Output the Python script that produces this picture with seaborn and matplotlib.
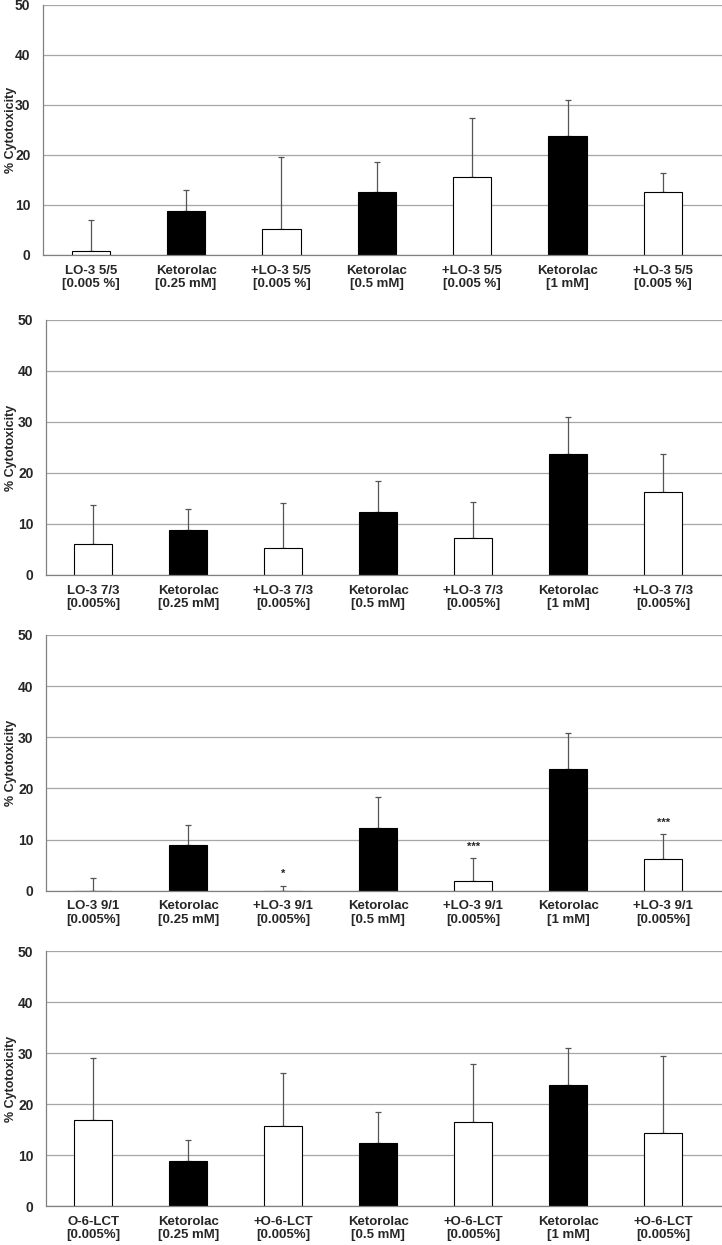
import numpy as np
import pandas as pd
import matplotlib
matplotlib.use("Agg")
import matplotlib.pyplot as plt
import seaborn as sns

sns.set_style("white")
plt.rcParams['font.family'] = ['Liberation Sans', 'DejaVu Sans']

# Data (mean % cytotoxicity and upper SD)
labels_p1 = ["LO-3 5/5\n[0.005 %]", "Ketorolac\n[0.25 mM]", "+LO-3 5/5\n[0.005 %]",
             "Ketorolac\n[0.5 mM]", "+LO-3 5/5\n[0.005 %]", "Ketorolac\n[1 mM]",
             "+LO-3 5/5\n[0.005 %]"]
labels_p2 = ["LO-3 7/3\n[0.005%]", "Ketorolac\n[0.25 mM]", "+LO-3 7/3\n[0.005%]",
             "Ketorolac\n[0.5 mM]", "+LO-3 7/3\n[0.005%]", "Ketorolac\n[1 mM]",
             "+LO-3 7/3\n[0.005%]"]
labels_p3 = ["LO-3 9/1\n[0.005%]", "Ketorolac\n[0.25 mM]", "+LO-3 9/1\n[0.005%]",
             "Ketorolac\n[0.5 mM]", "+LO-3 9/1\n[0.005%]", "Ketorolac\n[1 mM]",
             "+LO-3 9/1\n[0.005%]"]
labels_p4 = ["O-6-LCT\n[0.005%]", "Ketorolac\n[0.25 mM]", "+O-6-LCT\n[0.005%]",
             "Ketorolac\n[0.5 mM]", "+O-6-LCT\n[0.005%]", "Ketorolac\n[1 mM]",
             "+O-6-LCT\n[0.005%]"]

kinds = ["lipid", "ketorolac", "lipid", "ketorolac", "lipid", "ketorolac", "lipid"]

means_p1 = [0.8, 8.8, 5.1, 12.5, 15.6, 23.7, 12.5]
sd_p1 = [6.1, 4.1, 14.4, 6.0, 11.7, 7.2, 3.8]
means_p2 = [6.1, 8.9, 5.3, 12.4, 7.2, 23.7, 16.3]
sd_p2 = [7.6, 4.0, 8.8, 6.0, 7.2, 7.2, 7.4]
means_p3 = [0.0, 8.9, 0.0, 12.3, 1.8, 23.7, 6.1]
sd_p3 = [2.4, 4.0, 1.0, 6.1, 4.5, 7.2, 4.9]
means_p4 = [16.9, 8.9, 15.6, 12.4, 16.5, 23.7, 14.3]
sd_p4 = [12.1, 4.0, 10.5, 6.0, 11.3, 7.2, 15.2]

stars_p3 = ["", "", "*", "", "***", "", "***"]
no_stars = [""] * 7

panels = [
    (labels_p1, means_p1, sd_p1, no_stars),
    (labels_p2, means_p2, sd_p2, no_stars),
    (labels_p3, means_p3, sd_p3, stars_p3),
    (labels_p4, means_p4, sd_p4, no_stars),
]

# axes placement in figure fractions [left, bottom, width, height]
boxes = [
    [0.0596, 0.7952, 0.9404, 0.2008],
    [0.0637, 0.5382, 0.9363, 0.2048],
    [0.0637, 0.2846, 0.9363, 0.2054],
    [0.0637, 0.0313, 0.9363, 0.2048],
]

palette = {"lipid": "white", "ketorolac": "black"}

fig = plt.figure(figsize=(7.22, 12.45), dpi=100)

for (labels, means, sds, stars), box in zip(panels, boxes):
    ax = fig.add_axes(box)
    df = pd.DataFrame({"pos": np.arange(len(means)), "value": means, "kind": kinds})
    sns.barplot(data=df, x="pos", y="value", hue="kind", palette=palette,
                dodge=False, width=0.4, edgecolor="black", linewidth=0.8,
                legend=False, ax=ax, zorder=2)
    ax.errorbar(df["pos"], df["value"], yerr=[np.zeros(len(sds)), sds],
                fmt="none", ecolor="#555555", elinewidth=0.9, capsize=2.2,
                capthick=0.9, zorder=1)
    for i, s in enumerate(stars):
        if s:
            ax.text(i, means[i] + sds[i] + 1.3, s, ha="center", va="bottom",
                    fontsize=8, fontweight="bold")

    ax.set_ylim(0, 50)
    ax.set_xlim(-0.5, 6.62)
    ax.set_yticks(range(0, 51, 10))
    ax.yaxis.grid(True, color="#a6a6a6", linewidth=0.9)
    ax.set_axisbelow(True)
    ax.set_xticks(range(7))
    ax.set_xticklabels(labels, fontsize=9.5, fontweight="bold", linespacing=1.15)
    ax.tick_params(axis="x", length=0, pad=7)
    ax.tick_params(axis="y", length=3, width=0.8, color="#808080", pad=6,
                   labelsize=10)
    for t in ax.get_yticklabels():
        t.set_fontweight("bold")
    ax.set_xlabel("")
    ax.set_ylabel("% Cytotoxicity", fontsize=9, fontweight="bold")
    # place label so it sits just left of the tick numbers
    ax.yaxis.set_label_coords(-(box[0] * 722 - 17) / (box[2] * 722), 0.5)
    for side in ["top", "right"]:
        ax.spines[side].set_visible(False)
    for side in ["left", "bottom"]:
        ax.spines[side].set_color("#808080")
        ax.spines[side].set_linewidth(0.9)
        ax.spines[side].set_zorder(3)

plt.savefig("out.png", dpi=100)
plt.close()
